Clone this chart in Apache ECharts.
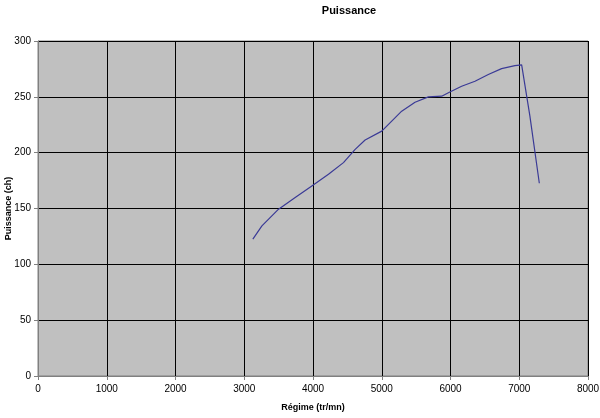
<!DOCTYPE html>
<html>
<head>
<meta charset="utf-8">
<script src="https://cdn.jsdelivr.net/npm/echarts@6/dist/echarts.min.js"></script>
<style>
  html, body { margin: 0; padding: 0; background: #fff; }
  #chart { width: 600px; height: 418px; }
</style>
</head>
<body>
<div id="chart"></div>
<script>
// Régime (tr/mn) and Puissance (ch)
const regime = [3125, 3257, 3499, 3741, 3983, 4225, 4443, 4613, 4758, 5000, 5145, 5290, 5484, 5678, 5872, 5969, 6162, 6356, 6550, 6743, 6937, 7035, 7155, 7292];
const puissance = [122.5, 134.5, 149.4, 159.8, 170.2, 180.7, 191.1, 203, 211.3, 219.3, 228.3, 237.2, 245.2, 250, 250.6, 253.6, 259.5, 264, 270, 275.3, 278, 278.6, 232.7, 172.6];

const chart = echarts.init(document.getElementById('chart'));
const font = 'Liberation Sans, Arial, sans-serif';
const axisGrey = '#808080';

chart.setOption({
    animation: false,
    title: {
        text: 'Puissance',
        left: 344,
        top: 0,
        textAlign: 'center',
        textStyle: { fontFamily: font, fontSize: 11, fontWeight: 'bold', color: '#000' }
    },
    grid: {
        left: 38, right: 12, top: 41, bottom: 42,
        containLabel: false, outerBoundsMode: 'none',
        show: true, backgroundColor: '#c0c0c0', borderColor: axisGrey, borderWidth: 1
    },
    xAxis: {
        type: 'value',
        min: 0,
        max: 8000,
        interval: 1000,
        name: 'Régime (tr/mn)',
        nameLocation: 'middle',
        nameGap: 27,
        nameMoveOverlap: false,
        nameTextStyle: { fontFamily: font, fontSize: 9, fontWeight: 'bold', color: '#000' },
        axisLine: { lineStyle: { color: axisGrey } },
        axisTick: { show: true, length: 4, lineStyle: { color: axisGrey } },
        axisLabel: { fontFamily: font, fontSize: 10, color: '#000', margin: 8, formatter: v => String(v) },
        splitLine: { show: true, lineStyle: { color: '#000', width: 1 } }
    },
    yAxis: {
        type: 'value',
        min: 0,
        max: 300,
        interval: 50,
        name: 'Puissance (ch)',
        nameLocation: 'middle',
        nameGap: 25,
        nameRotate: 90,
        nameMoveOverlap: false,
        nameTextStyle: { fontFamily: font, fontSize: 9, fontWeight: 'bold', color: '#000' },
        axisLine: { show: true, lineStyle: { color: axisGrey } },
        axisTick: { show: true, length: 4, lineStyle: { color: axisGrey } },
        axisLabel: { fontFamily: font, fontSize: 10, color: '#000', margin: 7 },
        splitLine: { show: true, lineStyle: { color: '#000', width: 1 } }
    },
    series: [{
        type: 'line',
        data: regime.map((r, i) => [r, puissance[i]]),
        showSymbol: false,
        symbol: 'none',
        lineStyle: { color: '#3a3a96', width: 1.2 }
    }]
});
</script>
</body>
</html>
